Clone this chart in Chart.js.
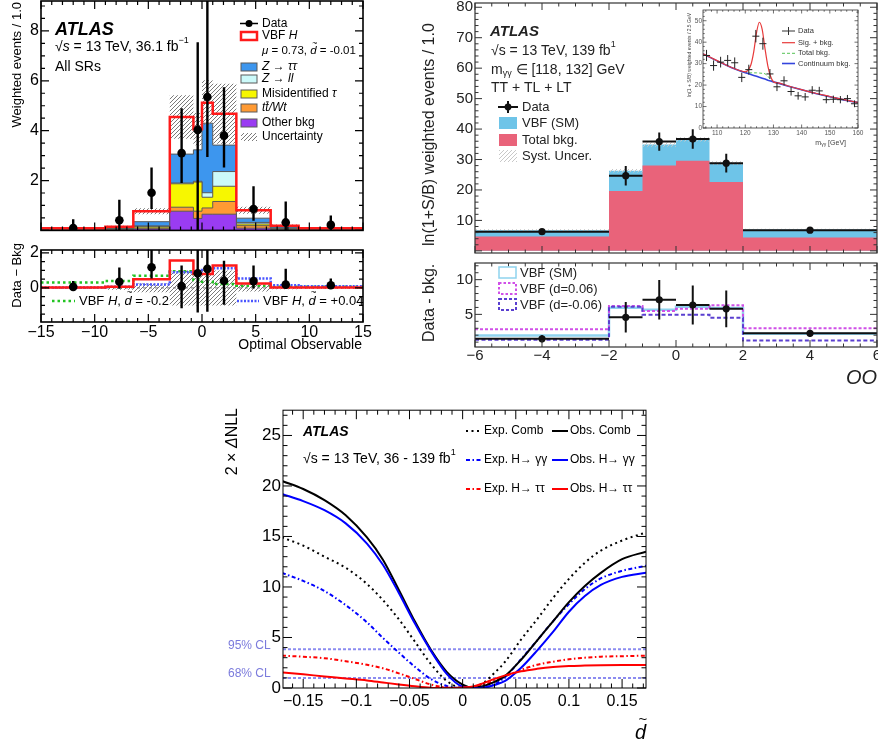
<!DOCTYPE html>
<html>
<head>
<meta charset="utf-8">
<script src="https://cdn.jsdelivr.net/npm/chart.js@4.4.1/dist/chart.umd.min.js"></script>
<style>
  html, body { margin: 0; padding: 0; background: #fff; width: 878px; height: 744px; overflow: hidden; position: relative; }
  canvas { position: absolute; }
</style>
</head>
<body>
<canvas id="ttMain"></canvas>
<canvas id="ttDiff"></canvas>
<canvas id="ggMain"></canvas>
<canvas id="ggDiff"></canvas>
<canvas id="ggInset"></canvas>
<canvas id="nll"></canvas>
<script>
const FONT = '"Liberation Sans", Arial, Helvetica, sans-serif';

// ---------- top left: H -> tautau, optimal observable, 36.1 fb-1
const ttEdges = [-15, -9, -6.4, -3, -0.8, 0, 1, 3.2, 6.4, 9, 15];
const ttOther = [0.02, 0.03, 0.06, 0.77, 0.48, 0.65, 0.65, 0.09, 0.03, 0.02];
const ttTop   = [0.01, 0.02, 0.04, 0.16, 0.29, 0.25, 0.51, 0.10, 0.02, 0.01];
const ttMisid = [0.01, 0.02, 0.06, 0.94, 1.17, 0.43, 0.61, 0.07, 0.03, 0.01];
const ttZll   = [0.01, 0.01, 0.02, 0.03, 0.03, 0.18, 0.59, 0.06, 0.02, 0.01];
const ttZtt   = [0.02, 0.04, 0.17, 1.16, 1.26, 2.79, 1.06, 0.17, 0.05, 0.02];
const ttVbf   = [0.02, 0.03, 0.42, 1.49, 0.83, 0.82, 1.26, 0.32, 0.04, 0.02];
const ttUnc   = [0.03, 0.04, 0.12, 0.87, 0.65, 0.90, 1.20, 0.14, 0.05, 0.03];
const ttDataX  = [-12, -7.7, -4.7, -1.9, -0.4, 0.5, 2.05, 4.8, 7.8, 12];
const ttDataY  = [0.09, 0.41, 1.51, 3.10, 4.03, 5.35, 3.80, 0.86, 0.32, 0.22];
const ttDataLo = [0, 0, 0.86, 1.90, 0, 2.94, 2.52, 0.39, 0, 0];
const ttDataHi = [0.45, 1.23, 2.52, 4.90, 7.55, 9.60, 5.74, 1.77, 1.16, 0.60];
// lower panel: data - bkg
const ttDiffSm  = [0.02, 0.06, 0.49, 1.57, 0.80, 0.80, 1.28, 0.25, 0.02, 0.02];
const ttDiffNeg = [0.31, 0.39, 0.70, 0.95, 0.45, 0.35, 0.22, 0.13, 0.06, 0.06];
const ttDiffPos = [0.03, 0.06, 0.20, 0.90, 0.87, 1.03, 1.13, 0.54, 0.15, 0.10];
const ttDiffUnc = [0.05, 0.10, 0.25, 1.00, 1.00, 1.00, 1.00, 0.20, 0.08, 0.05];
const ttDiffY  = [0.06, 0.35, 1.18, 0.10, 0.84, 1.09, 0.41, 0.39, 0.19, 0.15];
const ttDiffLo = [-0.10, -0.05, 0.54, -1.17, -1.40, -1.36, -0.97, -0.04, -0.05, -0.05];
const ttDiffHi = [0.40, 1.17, 2.25, 1.28, 2.50, 2.50, 1.55, 1.28, 1.09, 0.54];

// ---------- top right: H -> gammagamma, OO, 139 fb-1
const ggEdges = [-6, -2, -1, 0, 1, 2, 6];
const ggBkg  = [4.7, 19.7, 28.0, 29.6, 22.6, 4.4];
const ggVbf  = [2.1, 6.6, 6.9, 7.0, 6.2, 2.6];
const ggSyst = [0.3, 0.6, 0.7, 0.7, 0.6, 0.3];
const ggDataX   = [-4, -1.5, -0.5, 0.5, 1.5, 4];
const ggDataY   = [6.3, 24.7, 35.9, 36.7, 28.8, 6.8];
const ggDataErr = [0.4, 3.2, 3.0, 3.2, 3.1, 0.4];
const ggDiffSm  = [1.94, 5.97, 5.65, 6.10, 5.90, 2.20];
const ggDiffPos = [2.87, 6.20, 5.50, 5.80, 6.30, 3.00];
const ggDiffNeg = [1.35, 6.10, 4.95, 4.95, 4.50, 1.25];
const ggDiffY   = [1.48, 4.58, 7.10, 6.35, 5.80, 2.27];
const ggDiffErr = [0.50, 2.20, 2.85, 2.80, 2.65, 0.50];
// inset: m_gammagamma
const insetX   = [106.25, 108.75, 111.25, 113.75, 116.25, 118.75, 121.25, 123.75, 126.25, 128.75, 131.25,
                  133.75, 136.25, 138.75, 141.25, 143.75, 146.25, 148.75, 151.25, 153.75, 156.25, 158.75];
const insetY   = [33.8, 29.1, 30.7, 31.5, 30.4, 23.6, 27.2, 42.8, 39.3, 25.2, 19.2,
                  22.0, 17.0, 15.0, 14.5, 17.6, 17.3, 13.2, 13.4, 13.2, 13.7, 11.3];
const insetErr = [2.6, 2.4, 2.5, 2.5, 2.5, 2.2, 2.3, 2.9, 2.8, 2.3, 2.0,
                  2.1, 1.9, 1.8, 1.8, 1.9, 1.9, 1.7, 1.7, 1.7, 1.7, 1.6];
const insetCurveX = [105, 110, 115, 118, 120, 121, 122, 123, 124, 125, 126, 127, 128, 129, 130, 132, 135, 140, 145, 150, 155, 160];
const insetCont  = [34.5, 31.3, 28.2, 26.7, 25.8, 25.4, 24.9, 24.5, 24.1, 23.6, 23.2, 22.8, 22.3, 21.9, 21.5, 20.8, 19.6, 17.8, 16.1, 14.6, 13.1, 11.8];
const insetTotal = [34.5, 31.3, 28.2, 26.7, 26.0, 25.8, 25.7, 25.7, 25.7, 25.6, 25.5, 25.3, 24.2, 22.5, 21.5, 20.8, 19.6, 17.8, 16.1, 14.6, 13.1, 11.8];
const insetSig   = [34.6, 31.4, 28.3, 26.8, 26.2, 27.0, 29.5, 35.5, 44.5, 49.3, 46.0, 37.0, 29.0, 24.0, 21.6, 20.9, 19.7, 17.9, 16.2, 14.7, 13.2, 11.9];

// ---------- bottom: 2 x DeltaNLL vs d-tilde
const nllX    = [-0.17, -0.15, -0.13, -0.11, -0.09, -0.075, -0.06, -0.045, -0.03, -0.015, 0, 0.01, 0.02, 0.03, 0.04, 0.055, 0.07, 0.085, 0.1, 0.115, 0.13, 0.15, 0.1725];
const obsComb = [20.5, 19.7, 18.6, 17.1, 14.9, 12.7, 9.7, 6.6, 3.8, 1.6, 0.33, 0.02, 0.2, 0.6, 1.2, 2.8, 4.7, 6.6, 8.5, 10.1, 11.4, 12.75, 13.5];
const obsGG   = [19.2, 18.5, 17.6, 16.3, 14.3, 12.2, 9.4, 6.4, 3.7, 1.4, 0.12, 0.0, 0.06, 0.3, 0.7, 2.0, 3.7, 5.55, 7.55, 9.1, 10.2, 11.0, 11.4];
const obsTT   = [1.55, 1.35, 1.15, 0.95, 0.75, 0.55, 0.35, 0.17, 0.03, 0.0, 0.05, 0.15, 0.5, 0.9, 1.25, 1.65, 1.9, 2.08, 2.18, 2.22, 2.25, 2.27, 2.28];
const expComb = [14.9, 14.1, 13.0, 11.9, 10.3, 8.7, 6.8, 4.6, 2.4, 0.7, 0.0, 0.1, 0.55, 1.5, 2.6, 4.8, 6.8, 8.9, 10.8, 12.4, 13.6, 14.6, 15.4];
const expGG   = [11.4, 10.6, 9.6, 8.2, 6.5, 4.95, 3.5, 2.1, 0.9, 0.2, 0.0, 0.0, 0.05, 0.35, 1.1, 2.85, 4.7, 6.6, 8.3, 9.8, 10.85, 11.6, 12.1];
const expTT   = [3.2, 3.1, 2.95, 2.65, 2.3, 1.95, 1.45, 0.9, 0.35, 0.05, 0.0, 0.05, 0.3, 0.75, 1.15, 1.8, 2.3, 2.6, 2.85, 3.0, 3.1, 3.15, 3.2];
const clLevels = [3.84, 1.0];

// ---------- helpers
function font(size, style) { return (style || '') + ' ' + size + 'px ' + FONT; }

function addUp(...arrs) { return arrs[0].map((_, i) => arrs.reduce((s, a) => s + a[i], 0)); }
function shift(vals, d, sign) { return vals.map((v, i) => v + sign * d[i]); }

function stepPts(edges, vals) {
  const pts = vals.map((v, i) => ({ x: edges[i], y: v }));
  pts.push({ x: edges[edges.length - 1], y: vals[vals.length - 1] });
  return pts;
}
function vBars(xs, lo, hi) {
  const p = [];
  xs.forEach((x, i) => p.push({ x: x, y: lo[i] }, { x: x, y: hi[i] }, { x: x, y: null }));
  return p;
}
function hBars(lo, hi, ys) {
  const p = [];
  ys.forEach((y, i) => p.push({ x: lo[i], y: y }, { x: hi[i], y: y }, { x: hi[i], y: null }));
  return p;
}
function xy(xs, ys) { return xs.map((x, i) => ({ x: x, y: ys[i] })); }

function hatch(color, gap, lw) {
  const c = document.createElement('canvas');
  c.width = c.height = gap;
  const g = c.getContext('2d');
  g.strokeStyle = color; g.lineWidth = lw;
  g.beginPath();
  g.moveTo(0, gap); g.lineTo(gap, 0);
  g.moveTo(-1, 1); g.lineTo(1, -1);
  g.moveTo(gap - 1, gap + 1); g.lineTo(gap + 1, gap - 1);
  g.stroke();
  return g.createPattern(c, 'repeat');
}

function stepDs(pts, o) {
  return Object.assign({ data: pts, stepped: true, pointRadius: 0, borderWidth: 0, borderColor: 'rgba(0,0,0,0)', fill: false }, o);
}
function lineDs(pts, o) {
  return Object.assign({ data: pts, pointRadius: 0, fill: false }, o);
}
function markDs(pts, r, color) {
  return { data: pts, showLine: false, pointRadius: r, pointBackgroundColor: color, pointBorderColor: color, pointBorderWidth: 0 };
}

function fmt(v) { return v === 0 ? '0' : String(v).replace('-', '\u2212'); }

function axis(min, max, step, size, o) {
  return Object.assign({
    min: min, max: max,
    grid: { display: false, drawTicks: false },
    border: { display: false },
    ticks: Object.assign({ stepSize: step, autoSkip: false, includeBounds: false, maxRotation: 0,
      font: { family: FONT, size: size }, color: '#000', padding: 2, callback: fmt }, (o || {}).ticks || {})
  }, o && o.display !== undefined ? { display: o.display } : {});
}

// tick marks on all four sides, ROOT style
function frameTicks(cfg) {
  return {
    id: 'frameTicks',
    afterDatasetsDraw(chart) {
      const ctx = chart.ctx, a = chart.chartArea;
      ctx.save();
      ctx.strokeStyle = cfg.color || '#000';
      ctx.lineWidth = cfg.lw || 1;
      ['x', 'y'].forEach(id => {
        const s = chart.scales[id], t = cfg[id];
        const k0 = Math.ceil(s.min / t.minor - 1e-6);
        for (let k = k0; k * t.minor <= s.max + 1e-9; k++) {
          const v = k * t.minor;
          const major = Math.abs(v / t.major - Math.round(v / t.major)) < 1e-6;
          const len = major ? t.len : t.len * 0.5;
          const p = s.getPixelForValue(v);
          ctx.beginPath();
          if (id === 'x') {
            ctx.moveTo(p, a.bottom); ctx.lineTo(p, a.bottom - len);
            ctx.moveTo(p, a.top); ctx.lineTo(p, a.top + len);
          } else {
            ctx.moveTo(a.left, p); ctx.lineTo(a.left + len, p);
            ctx.moveTo(a.right, p); ctx.lineTo(a.right - len, p);
          }
          ctx.stroke();
        }
      });
      ctx.lineWidth = cfg.frame || 1;
      ctx.strokeRect(a.left, a.top, a.right - a.left, a.bottom - a.top);
      ctx.restore();
    }
  };
}

function drawText(ctx, it, ox, oy) {
  const size = it.size || 14;
  const parts = (typeof it.t === 'string' ? [{ t: it.t }] : it.t)
    .map(p => Object.assign({ size: size, style: it.style || '' }, p));
  ctx.save();
  ctx.translate(it.x - ox, it.y - oy);
  if (it.rot) ctx.rotate(it.rot * Math.PI / 180);
  ctx.textBaseline = 'middle';
  ctx.textAlign = 'left';
  let w = 0;
  parts.forEach(p => { ctx.font = font(p.size, p.style); p.w = ctx.measureText(p.t).width; w += p.w; });
  let x = it.align === 'right' ? -w : it.align === 'center' ? -w / 2 : 0;
  ctx.fillStyle = it.color || '#000';
  parts.forEach(p => {
    const y = p.dy || 0;
    ctx.font = font(p.size, p.style);
    ctx.fillText(p.t, x, y);
    if (p.tilde) {
      ctx.font = font(p.size * 0.75, '');
      const tw = ctx.measureText('~').width;
      ctx.fillText('~', x + p.w / 2 - tw / 2 + p.size * 0.12, y - p.size * 0.68);
    }
    if (p.bar) {
      ctx.fillRect(x + p.w * 0.25, y - p.size * 0.55, p.w * 0.75, Math.max(1, p.size / 12));
    }
    x += p.w;
  });
  ctx.restore();
}

function drawShape(ctx, s, ox, oy) {
  ctx.save();
  ctx.setLineDash(s.dash || []);
  ctx.lineWidth = s.lw || 1;
  if (s.shape === 'box') {
    if (s.fill) { ctx.fillStyle = s.fill; ctx.fillRect(s.x - ox, s.y - oy, s.w, s.h); }
    if (s.stroke) { ctx.strokeStyle = s.stroke; ctx.strokeRect(s.x - ox, s.y - oy, s.w, s.h); }
  } else if (s.shape === 'line') {
    ctx.strokeStyle = s.color || '#000';
    ctx.beginPath(); ctx.moveTo(s.x1 - ox, s.y1 - oy); ctx.lineTo(s.x2 - ox, s.y2 - oy); ctx.stroke();
  } else if (s.shape === 'dot') {
    ctx.fillStyle = s.color || '#000';
    ctx.beginPath(); ctx.arc(s.x - ox, s.y - oy, s.r, 0, Math.PI * 2); ctx.fill();
  }
  ctx.restore();
}

function notesPlugin(items, ox, oy) {
  return {
    id: 'notes',
    afterDraw(chart) {
      items.forEach(it => it.shape ? drawShape(chart.ctx, it, ox, oy) : drawText(chart.ctx, it, ox, oy));
    }
  };
}

function build(id, box, datasets, scales, ticks, notes) {
  const c = document.getElementById(id);
  const w = box.yW + box.R - box.L + box.padR;
  const h = box.padT + box.B - box.T + box.xH;
  const left = box.L - box.yW, top = box.T - box.padT;
  Object.assign(c.style, { left: left + 'px', top: top + 'px', width: w + 'px', height: h + 'px' });
  c.width = w; c.height = h;
  datasets.forEach((d, i) => { d.order = datasets.length - i; d.type = 'line'; });
  scales.x.type = 'linear'; scales.x.position = 'bottom';
  scales.x.afterFit = s => { s.height = box.xH; };
  scales.y.type = 'linear'; scales.y.position = 'left';
  scales.y.afterFit = s => { s.width = box.yW; };
  return new Chart(c, {
    type: 'line',
    data: { datasets: datasets },
    options: {
      responsive: false, animation: false, events: [],
      layout: { padding: { top: box.padT, right: box.padR, left: 0, bottom: 0 } },
      plugins: { legend: { display: false }, tooltip: { enabled: false } },
      scales: scales
    },
    plugins: [frameTicks(ticks), notesPlugin(notes, left, top)]
  });
}

const dTilde = (size) => ({ t: 'd', style: 'italic', tilde: true, size: size });

// ---------- chart 1: top-left main
const ttC1 = ttOther, ttC2 = addUp(ttOther, ttTop), ttC3 = addUp(ttC2, ttMisid),
      ttC4 = addUp(ttC3, ttZll), ttC5 = addUp(ttC4, ttZtt), ttC6 = addUp(ttC5, ttVbf);
const greyHatch = hatch('#7a7a7a', 4, 1);
const stackLine = '#5a5a5a';

build('ttMain', { L: 41, T: 1, R: 363, B: 238, yW: 41, xH: 4, padT: 12, padR: 14 }, [
  stepDs(stepPts(ttEdges, ttC6), { fill: 'origin', backgroundColor: '#ffffff' }),
  stepDs(stepPts(ttEdges, ttC5), { fill: 'origin', backgroundColor: '#3d96ee', borderColor: stackLine, borderWidth: 1 }),
  stepDs(stepPts(ttEdges, ttC4), { fill: 'origin', backgroundColor: '#ccfafa', borderColor: stackLine, borderWidth: 1 }),
  stepDs(stepPts(ttEdges, ttC3), { fill: 'origin', backgroundColor: '#f7f700', borderColor: stackLine, borderWidth: 1 }),
  stepDs(stepPts(ttEdges, ttC2), { fill: 'origin', backgroundColor: '#ff9a33', borderColor: stackLine, borderWidth: 1 }),
  stepDs(stepPts(ttEdges, ttC1), { fill: 'origin', backgroundColor: '#9a3cf2', borderColor: stackLine, borderWidth: 1 }),
  stepDs(stepPts(ttEdges, shift(ttC6, ttUnc, -1)), {}),
  stepDs(stepPts(ttEdges, shift(ttC6, ttUnc, 1)), { fill: '-1', backgroundColor: greyHatch }),
  stepDs(stepPts(ttEdges, ttC6), { borderColor: '#ff1a1a', borderWidth: 2.5 }),
  lineDs(vBars(ttDataX, ttDataLo, ttDataHi), { borderColor: '#000', borderWidth: 2.4 }),
  markDs(xy(ttDataX, ttDataY), 4.3, '#000')
], {
  x: axis(-15, 15, 5, 16, { display: true, ticks: { display: false } }),
  y: axis(0, 9.2, 2, 16, { ticks: { callback: v => v === 0 ? '' : fmt(v) } })
}, { x: { major: 5, minor: 1, len: 8 }, y: { major: 2, minor: 0.5, len: 8 }, lw: 1.2, frame: 1.6 }, [
  { t: 'Weighted events / 1.0', x: 17, y: 2, rot: -90, align: 'right', size: 13 },
  { t: 'ATLAS', x: 55, y: 30, size: 18, style: 'bold italic' },
  { t: [{ t: '\u221A' }, { t: 's', style: 'italic' }, { t: ' = 13 TeV, 36.1 fb' }, { t: '\u22121', size: 9, dy: -6 }], x: 55, y: 47, size: 14 },
  { t: 'All SRs', x: 55, y: 67, size: 14 },
  { shape: 'line', x1: 240, y1: 23.5, x2: 258, y2: 23.5, lw: 1.5 },
  { shape: 'dot', x: 249, y: 23.5, r: 3.5 },
  { t: 'Data', x: 262, y: 23.5, size: 12 },
  { shape: 'box', x: 241, y: 32, w: 16, h: 8, fill: '#fff', stroke: '#ff1a1a', lw: 2.5 },
  { t: [{ t: 'VBF ' }, { t: 'H', style: 'italic' }], x: 262, y: 36, size: 12 },
  { t: [{ t: '\u03BC', style: 'italic' }, { t: ' = 0.73, ' }, dTilde(11.5), { t: ' = -0.01' }], x: 262, y: 51, size: 11.5 },
  { shape: 'box', x: 241, y: 63, w: 16, h: 8, fill: '#3d96ee', stroke: stackLine },
  { t: 'Z \u2192 \u03C4\u03C4', x: 262, y: 67, size: 12, style: 'italic' },
  { shape: 'box', x: 241, y: 75, w: 16, h: 8, fill: '#ccfafa', stroke: stackLine },
  { t: 'Z \u2192 ll', x: 262, y: 79, size: 12, style: 'italic' },
  { shape: 'box', x: 241, y: 90, w: 16, h: 8, fill: '#f7f700', stroke: stackLine },
  { t: [{ t: 'Misidentified ' }, { t: '\u03C4', style: 'italic' }], x: 262, y: 94, size: 12 },
  { shape: 'box', x: 241, y: 104, w: 16, h: 8, fill: '#ff9a33', stroke: stackLine },
  { t: [{ t: 't', style: 'italic' }, { t: 't', style: 'italic', bar: true }, { t: '/Wt', style: 'italic' }], x: 262, y: 108, size: 12 },
  { shape: 'box', x: 241, y: 119, w: 16, h: 8, fill: '#9a3cf2', stroke: stackLine },
  { t: 'Other bkg', x: 262, y: 123, size: 12 },
  { shape: 'box', x: 241, y: 133, w: 16, h: 8, fill: greyHatch },
  { t: 'Uncertainty', x: 262, y: 137, size: 12 }
]);

// ---------- chart 2: top-left lower panel
build('ttDiff', { L: 41, T: 250, R: 363, B: 322, yW: 41, xH: 32, padT: 12, padR: 14 }, [
  stepDs(stepPts(ttEdges, ttDiffUnc.map(u => -u)), {}),
  stepDs(stepPts(ttEdges, ttDiffUnc), { fill: '-1', backgroundColor: greyHatch }),
  lineDs([{ x: -15, y: 0 }, { x: 15, y: 0 }], { borderColor: '#777', borderWidth: 1, borderDash: [3, 3] }),
  stepDs(stepPts(ttEdges, ttDiffNeg), { borderColor: '#22c322', borderWidth: 2.5, borderDash: [2.5, 3] }),
  stepDs(stepPts(ttEdges, ttDiffPos), { borderColor: '#4a55ff', borderWidth: 2.5, borderDash: [2, 1.5] }),
  stepDs(stepPts(ttEdges, ttDiffSm), { borderColor: '#ff1a1a', borderWidth: 2.5 }),
  lineDs(vBars(ttDataX, ttDiffLo, ttDiffHi), { borderColor: '#000', borderWidth: 2.4 }),
  markDs(xy(ttDataX, ttDiffY), 4.3, '#000')
], {
  x: axis(-15, 15, 5, 16, { ticks: { padding: 1 } }),
  y: axis(-1.95, 2.17, 2, 16)
}, { x: { major: 5, minor: 1, len: 8 }, y: { major: 2, minor: 0.5, len: 8 }, lw: 1.2, frame: 1.6 }, [
  { t: 'Data \u2212 Bkg', x: 17, y: 243, rot: -90, align: 'right', size: 13 },
  { t: 'Optimal Observable', x: 362, y: 345, align: 'right', size: 14 },
  { shape: 'line', x1: 52, y1: 301, x2: 75, y2: 301, color: '#22c322', lw: 2.5, dash: [2.5, 3] },
  { t: [{ t: 'VBF ' }, { t: 'H', style: 'italic' }, { t: ', ' }, dTilde(13), { t: ' = -0.2' }], x: 79, y: 301, size: 13 },
  { shape: 'line', x1: 237, y1: 301, x2: 259, y2: 301, color: '#4a55ff', lw: 2.5, dash: [2, 1.5] },
  { t: [{ t: 'VBF ' }, { t: 'H', style: 'italic' }, { t: ', ' }, dTilde(13), { t: ' = +0.04' }], x: 263, y: 301, size: 13 }
]);

// ---------- chart 3: top-right main
const ggTotal = addUp(ggBkg, ggVbf);
const lightHatch = hatch('#c8c8c8', 4, 1);
const ggLo = ggEdges.slice(0, -1), ggHi = ggEdges.slice(1);

build('ggMain', { L: 475, T: 3, R: 877, B: 260, yW: 64, xH: 4, padT: 12, padR: 14 }, [
  stepDs(stepPts(ggEdges, ggTotal), { fill: 'origin', backgroundColor: '#6ec4e8' }),
  stepDs(stepPts(ggEdges, ggBkg), { fill: 'origin', backgroundColor: '#e9637a' }),
  stepDs(stepPts(ggEdges, shift(ggTotal, ggSyst, -1)), {}),
  stepDs(stepPts(ggEdges, shift(ggTotal, ggSyst, 1)), { fill: '-1', backgroundColor: lightHatch }),
  lineDs(hBars(ggLo, ggHi, ggDataY), { borderColor: '#111', borderWidth: 2 }),
  lineDs(vBars(ggDataX, shift(ggDataY, ggDataErr, -1), shift(ggDataY, ggDataErr, 1)), { borderColor: '#111', borderWidth: 2 }),
  markDs(xy(ggDataX, ggDataY), 3.6, '#111')
], {
  x: axis(-6, 6, 2, 15, { ticks: { display: false } }),
  y: axis(-0.7, 81.4, 10, 15, { ticks: { color: '#222', callback: v => v === 0 ? '' : fmt(v) } })
}, { x: { major: 2, minor: 0.5, len: 7 }, y: { major: 10, minor: 2, len: 7 }, lw: 1, frame: 1.2, color: '#333' }, [
  { t: 'ln(1+S/B) weighted events / 1.0', x: 430, y: 246, rot: -90, align: 'left', size: 16, color: '#222' },
  { t: 'ATLAS', x: 490, y: 32, size: 15, style: 'bold italic', color: '#222' },
  { t: [{ t: '\u221As = 13 TeV, 139 fb' }, { t: '1', size: 9, dy: -6 }], x: 491, y: 51, size: 14, color: '#222' },
  { t: [{ t: 'm' }, { t: '\u03B3\u03B3', size: 9, dy: 4 }, { t: ' \u2208 [118, 132] GeV' }], x: 491, y: 70, size: 14, color: '#222' },
  { t: 'TT + TL + LT', x: 491, y: 88, size: 14, color: '#222' },
  { shape: 'line', x1: 498, y1: 107, x2: 518, y2: 107, color: '#111', lw: 2 },
  { shape: 'line', x1: 508, y1: 101, x2: 508, y2: 113, color: '#111', lw: 2 },
  { shape: 'dot', x: 508, y: 107, r: 3.4, color: '#111' },
  { t: 'Data', x: 522, y: 107, size: 13, color: '#222' },
  { shape: 'box', x: 499, y: 117, w: 18, h: 12, fill: '#6ec4e8' },
  { t: 'VBF (SM)', x: 522, y: 123, size: 13, color: '#222' },
  { shape: 'box', x: 499, y: 134, w: 18, h: 12, fill: '#e9637a' },
  { t: 'Total bkg.', x: 522, y: 140, size: 13, color: '#222' },
  { shape: 'box', x: 499, y: 150, w: 18, h: 12, fill: lightHatch },
  { t: 'Syst. Uncer.', x: 522, y: 156, size: 13, color: '#222' }
]);

// ---------- chart 4: top-right lower panel
build('ggDiff', { L: 475, T: 260, R: 877, B: 347, yW: 64, xH: 40, padT: 8, padR: 14 }, [
  stepDs(stepPts(ggEdges, ggDiffSm), { borderColor: '#8fd3ee', borderWidth: 2.5 }),
  stepDs(stepPts(ggEdges, ggDiffPos), { borderColor: '#d050e8', borderWidth: 2, borderDash: [3, 2] }),
  stepDs(stepPts(ggEdges, ggDiffNeg), { borderColor: '#5a3fd0', borderWidth: 2, borderDash: [4, 2.5] }),
  lineDs(hBars(ggLo, ggHi, ggDiffY), { borderColor: '#111', borderWidth: 2 }),
  lineDs(vBars(ggDataX, shift(ggDiffY, ggDiffErr, -1), shift(ggDiffY, ggDiffErr, 1)), { borderColor: '#111', borderWidth: 2 }),
  markDs(xy(ggDataX, ggDiffY), 3.6, '#111')
], {
  x: axis(-6, 6, 2, 15, { ticks: { color: '#222', padding: 0 } }),
  y: axis(0.3, 12.4, 5, 15, { ticks: { color: '#222' } })
}, { x: { major: 2, minor: 0.5, len: 7 }, y: { major: 5, minor: 1, len: 7 }, lw: 1, frame: 1.2, color: '#333' }, [
  { t: 'Data - bkg.', x: 430, y: 342, rot: -90, align: 'left', size: 16, color: '#222' },
  { t: 'OO', x: 877, y: 378, align: 'right', size: 20, style: 'italic', color: '#222' },
  { shape: 'box', x: 499, y: 267, w: 17, h: 11, stroke: '#8fd3ee', lw: 1.5 },
  { t: 'VBF (SM)', x: 520, y: 273, size: 13, color: '#222' },
  { shape: 'box', x: 499, y: 283, w: 17, h: 11, stroke: '#d050e8', lw: 2, dash: [2.5, 2] },
  { t: 'VBF (d=0.06)', x: 520, y: 289, size: 13, color: '#222' },
  { shape: 'box', x: 499, y: 299, w: 17, h: 11, stroke: '#5a3fd0', lw: 2, dash: [3, 2] },
  { t: 'VBF (d=-0.06)', x: 520, y: 305, size: 13, color: '#222' }
]);

// ---------- chart 5: inset m_gammagamma
build('ggInset', { L: 703, T: 10, R: 858, B: 128, yW: 16, xH: 22, padT: 6, padR: 10 }, [
  lineDs(xy(insetCurveX, insetTotal), { borderColor: '#55c455', borderWidth: 1, borderDash: [3, 2] }),
  lineDs(xy(insetCurveX, insetCont), { borderColor: '#3344dd', borderWidth: 1.6 }),
  lineDs(xy(insetCurveX, insetSig), { borderColor: '#e83a3a', borderWidth: 1.2, tension: 0.35, cubicInterpolationMode: 'monotone' }),
  lineDs(vBars(insetX, shift(insetY, insetErr, -1), shift(insetY, insetErr, 1)), { borderColor: '#222', borderWidth: 1 }),
  lineDs(hBars(insetX.map(x => x - 1.25), insetX.map(x => x + 1.25), insetY), { borderColor: '#222', borderWidth: 1 })
], {
  x: axis(105, 160, 10, 6.5, { ticks: { color: '#555', padding: 1 } }),
  y: axis(0, 55, 10, 6.5, { ticks: { color: '#555', padding: 1 } })
}, { x: { major: 10, minor: 2, len: 3.5 }, y: { major: 10, minor: 2, len: 3.5 }, lw: 0.7, frame: 0.8, color: '#333' }, [
  { t: 'ln(1 + S/B) weighted events / 2.5 GeV', x: 690, y: 13, rot: -90, align: 'right', size: 5, color: '#444' },
  { t: [{ t: 'm' }, { t: '\u03B3\u03B3', size: 5, dy: 2 }, { t: ' [GeV]' }], x: 846, y: 143, align: 'right', size: 7, color: '#444' },
  { shape: 'line', x1: 782, y1: 31, x2: 795, y2: 31, color: '#333', lw: 1 },
  { shape: 'line', x1: 788.5, y1: 27, x2: 788.5, y2: 35, color: '#333', lw: 1 },
  { t: 'Data', x: 798, y: 31, size: 7.5, color: '#333' },
  { shape: 'line', x1: 782, y1: 42.7, x2: 795, y2: 42.7, color: '#e83a3a', lw: 1.2 },
  { t: 'Sig. + bkg.', x: 798, y: 42.7, size: 7.5, color: '#333' },
  { shape: 'line', x1: 782, y1: 53.3, x2: 795, y2: 53.3, color: '#55c455', lw: 1, dash: [3, 2] },
  { t: 'Total bkg.', x: 798, y: 53.3, size: 7.5, color: '#333' },
  { shape: 'line', x1: 782, y1: 63.5, x2: 795, y2: 63.5, color: '#3344dd', lw: 1.6 },
  { t: 'Continuum bkg.', x: 798, y: 63.5, size: 7.5, color: '#333' }
]);

// ---------- chart 6: bottom, 2 x DeltaNLL
const clColor = '#8c8cf0';
const expDash = [4, 2.5, 1.5, 2.5];
const smooth = { tension: 0.4, cubicInterpolationMode: 'monotone' };

build('nll', { L: 283, T: 410, R: 646, B: 688, yW: 68, xH: 56, padT: 12, padR: 16 }, [
  lineDs([{ x: -0.169, y: clLevels[0] }, { x: 0.1725, y: clLevels[0] }], { borderColor: clColor, borderWidth: 2, borderDash: [3, 2] }),
  lineDs([{ x: -0.169, y: clLevels[1] }, { x: 0.1725, y: clLevels[1] }], { borderColor: clColor, borderWidth: 2, borderDash: [3, 2] }),
  lineDs(xy(nllX, expComb), Object.assign({ borderColor: '#000', borderWidth: 2, borderDash: [2, 3.5] }, smooth)),
  lineDs(xy(nllX, expGG), Object.assign({ borderColor: '#0000ff', borderWidth: 2, borderDash: expDash }, smooth)),
  lineDs(xy(nllX, expTT), Object.assign({ borderColor: '#ff0000', borderWidth: 2, borderDash: expDash }, smooth)),
  lineDs(xy(nllX, obsComb), Object.assign({ borderColor: '#000', borderWidth: 2 }, smooth)),
  lineDs(xy(nllX, obsGG), Object.assign({ borderColor: '#0000ff', borderWidth: 2 }, smooth)),
  lineDs(xy(nllX, obsTT), Object.assign({ borderColor: '#ff0000', borderWidth: 2 }, smooth))
], {
  x: axis(-0.169, 0.1725, 0.05, 16, { ticks: { padding: 4 } }),
  y: axis(0, 27.5, 5, 17)
}, { x: { major: 0.05, minor: 0.01, len: 9 }, y: { major: 5, minor: 1, len: 9 }, lw: 1, frame: 1 }, [
  { t: [{ t: '2 \u00D7 ' }, { t: '\u0394', style: 'italic' }, { t: 'NLL' }], x: 233, y: 408, rot: -90, align: 'right', size: 16 },
  { t: [{ t: 'd', style: 'italic', tilde: true }], x: 646, y: 733, align: 'right', size: 20 },
  { t: 'ATLAS', x: 303, y: 432, size: 14, style: 'bold italic' },
  { t: [{ t: '\u221As = 13 TeV, 36 - 139 fb' }, { t: '1', size: 9, dy: -6 }], x: 303, y: 459, size: 14 },
  { shape: 'line', x1: 466, y1: 431, x2: 481, y2: 431, color: '#000', lw: 2, dash: [2, 3.5] },
  { t: 'Exp. Comb', x: 484, y: 431, size: 12 },
  { shape: 'line', x1: 552, y1: 431, x2: 568, y2: 431, color: '#000', lw: 2 },
  { t: 'Obs. Comb', x: 570, y: 431, size: 12 },
  { shape: 'line', x1: 466, y1: 460, x2: 481, y2: 460, color: '#0000ff', lw: 2, dash: expDash },
  { t: 'Exp. H\u2192 \u03B3\u03B3', x: 484, y: 460, size: 12 },
  { shape: 'line', x1: 552, y1: 460, x2: 568, y2: 460, color: '#0000ff', lw: 2 },
  { t: 'Obs. H\u2192 \u03B3\u03B3', x: 570, y: 460, size: 12 },
  { shape: 'line', x1: 466, y1: 489, x2: 481, y2: 489, color: '#ff0000', lw: 2, dash: expDash },
  { t: 'Exp. H\u2192 \u03C4\u03C4', x: 484, y: 489, size: 12 },
  { shape: 'line', x1: 552, y1: 489, x2: 568, y2: 489, color: '#ff0000', lw: 2 },
  { t: 'Obs. H\u2192 \u03C4\u03C4', x: 570, y: 489, size: 12 },
  { t: '95% CL', x: 228, y: 646, size: 12, color: '#7b7bdc' },
  { t: '68% CL', x: 228, y: 674, size: 12, color: '#7b7bdc' }
]);
</script>
</body>
</html>
